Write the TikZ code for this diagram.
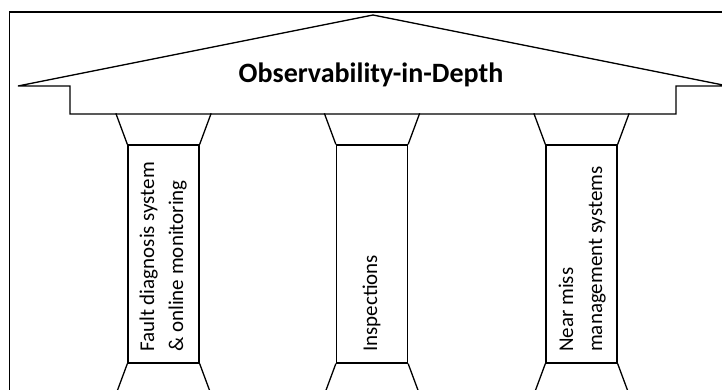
\documentclass[tikz,border=0pt]{standalone}
\usepackage{fontspec}
\setmainfont{Carlito}
\begin{document}
\begin{tikzpicture}[x=1pt, y=-1pt, line join=miter,
  outline/.style={draw=black, line width=1.3pt},
  shaftbox/.style={outline, minimum width=71pt, minimum height=218pt, inner sep=0pt},
  pillartext/.style={rotate=90, anchor=base west, inner sep=0pt,
    font=\fontsize{21}{29}\selectfont},
  titletext/.style={anchor=base, inner sep=0pt,
    font=\fontsize{28}{33}\selectfont\bfseries}]
\useasboundingbox (0,0) rectangle (722,389);
\clip (0,0) rectangle (722,389);

% outer frame
\draw[line width=1.8pt] (9.5,400) |- (740,12);

% roof
\draw[outline] (18,86) -- (373,15) -- (728,86) -- (676,86) -- (676,114)
  -- (70,114) -- (70,86) -- cycle;
\node[titletext] (title) at (371,82.5) {Observability-in-Depth};

% pillars: capital, shaft and base
\foreach \c/\n in {163.5/a, 372/b, 581.5/c} {
  \node[shaftbox] (shaft\n) at (\c,254) {};
  \draw[outline] (shaft\n.north west) -- ++(-11.5,-31);
  \draw[outline] (shaft\n.north east) -- ++(11.5,-31);
  \draw[outline] (shaft\n.south west) -- ++(-11.5,31);
  \draw[outline] (shaft\n.south east) -- ++(11.5,31);
}

% pillar labels
\node[pillartext] (ta1) at (154,352) {Fault diagnosis system};
\node[pillartext] (ta2) at (183,352) {\& online monitoring};
\node[pillartext] (tb1) at (377,352) {Inspections};
\node[pillartext] (tc1) at (573,352) {Near miss};
\node[pillartext] (tc2) at (602,352) {management systems};
\end{tikzpicture}
\end{document}
